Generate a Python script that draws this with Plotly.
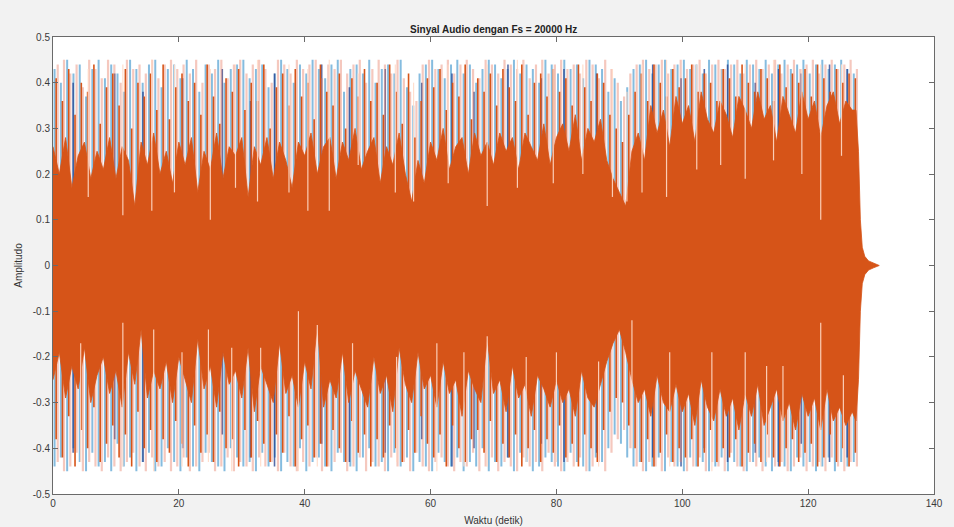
import numpy as np
import plotly.graph_objects as go

# ---------------- data ----------------
seconds = list(range(128))  # one column of values per second, 0..127 s

# solid orange core (top / bottom of the dense part of channel 2)
core_top = [0.26,0.20,0.28,0.17,0.24,0.27,0.19,0.25,0.21,0.28,
            0.19,0.26,0.23,0.13,0.27,0.22,0.29,0.20,0.25,0.18,
            0.27,0.22,0.28,0.16,0.25,0.21,0.29,0.19,0.26,0.24,
            0.28,0.15,0.26,0.22,0.28,0.19,0.27,0.23,0.17,0.27,
            0.24,0.29,0.20,0.26,0.28,0.19,0.27,0.23,0.30,0.21,
            0.25,0.28,0.18,0.26,0.22,0.29,0.20,0.14,0.23,0.18,
            0.27,0.23,0.30,0.21,0.26,0.28,0.20,0.29,0.24,0.27,
            0.22,0.29,0.25,0.28,0.21,0.29,0.26,0.23,0.31,0.22,
            0.28,0.31,0.25,0.33,0.23,0.30,0.27,0.32,0.23,0.19,
            0.16,0.13,0.25,0.29,0.23,0.35,0.29,0.34,0.26,0.37,
            0.31,0.35,0.27,0.38,0.32,0.29,0.36,0.33,0.28,0.37,
            0.34,0.30,0.38,0.32,0.35,0.27,0.37,0.33,0.29,0.38,
            0.32,0.36,0.28,0.35,0.38,0.31,0.36,0.34]
core_bot = [-0.25,-0.19,-0.29,-0.22,-0.27,-0.18,-0.30,-0.24,-0.20,-0.28,
            -0.23,-0.31,-0.19,-0.26,-0.14,-0.29,-0.23,-0.27,-0.21,-0.30,
            -0.20,-0.25,-0.30,-0.16,-0.27,-0.22,-0.31,-0.19,-0.26,-0.23,
            -0.29,-0.18,-0.32,-0.22,-0.26,-0.30,-0.17,-0.28,-0.24,-0.31,
            -0.21,-0.27,-0.13,-0.31,-0.25,-0.29,-0.19,-0.30,-0.23,-0.27,
            -0.31,-0.20,-0.28,-0.24,-0.32,-0.18,-0.26,-0.30,-0.19,-0.27,
            -0.24,-0.31,-0.21,-0.28,-0.25,-0.33,-0.23,-0.27,-0.30,-0.16,
            -0.28,-0.25,-0.32,-0.22,-0.29,-0.26,-0.33,-0.24,-0.27,-0.31,
            -0.25,-0.30,-0.27,-0.33,-0.23,-0.29,-0.31,-0.26,-0.21,-0.17,
            -0.14,-0.19,-0.25,-0.30,-0.27,-0.33,-0.24,-0.30,-0.32,-0.26,
            -0.32,-0.28,-0.35,-0.25,-0.31,-0.34,-0.27,-0.33,-0.29,-0.36,
            -0.28,-0.33,-0.26,-0.35,-0.31,-0.27,-0.34,-0.30,-0.36,-0.28,
            -0.33,-0.29,-0.36,-0.27,-0.34,-0.31,-0.35,-0.32]

# channel 2 (orange) individual peaks
orange_top = [0.41,0.36,0.43,0.33,0.40,0.38,0.44,0.31,0.39,0.42,
              0.35,0.43,0.30,0.40,0.37,0.42,0.34,0.44,0.32,0.39,
              0.42,0.36,0.40,0.33,0.44,0.37,0.31,0.41,0.38,0.43,
              0.34,0.40,0.36,0.44,0.30,0.39,0.42,0.35,0.43,0.37,
              0.40,0.32,0.44,0.38,0.35,0.42,0.30,0.41,0.37,0.43,
              0.36,0.40,0.33,0.44,0.38,0.31,0.42,0.28,0.36,0.41,
              0.39,0.43,0.34,0.40,0.37,0.44,0.32,0.41,0.38,0.42,
              0.35,0.43,0.39,0.36,0.44,0.33,0.40,0.42,0.37,0.43,
              0.38,0.41,0.35,0.44,0.39,0.36,0.42,0.40,0.33,0.30,
              0.27,0.33,0.38,0.42,0.36,0.44,0.40,0.37,0.43,0.39,
              0.41,0.44,0.38,0.42,0.40,0.36,0.43,0.41,0.37,0.44,
              0.40,0.38,0.43,0.41,0.36,0.44,0.39,0.42,0.40,0.43,
              0.37,0.44,0.41,0.38,0.43,0.40,0.42,0.41]
orange_bot = [-0.38,-0.42,-0.33,-0.44,-0.36,-0.40,-0.31,-0.43,-0.39,-0.35,
              -0.42,-0.37,-0.44,-0.32,-0.40,-0.36,-0.43,-0.38,-0.41,-0.34,
              -0.39,-0.44,-0.35,-0.41,-0.37,-0.43,-0.32,-0.40,-0.38,-0.44,
              -0.36,-0.42,-0.34,-0.39,-0.43,-0.37,-0.41,-0.33,-0.44,-0.38,
              -0.35,-0.42,-0.39,-0.44,-0.36,-0.40,-0.43,-0.34,-0.41,-0.37,
              -0.44,-0.38,-0.42,-0.35,-0.40,-0.43,-0.36,-0.41,-0.33,-0.39,
              -0.42,-0.37,-0.44,-0.35,-0.40,-0.43,-0.38,-0.36,-0.41,-0.34,
              -0.43,-0.39,-0.42,-0.37,-0.44,-0.40,-0.36,-0.43,-0.38,-0.41,
              -0.35,-0.42,-0.39,-0.44,-0.37,-0.40,-0.43,-0.36,-0.32,-0.29,
              -0.30,-0.35,-0.40,-0.43,-0.38,-0.44,-0.41,-0.37,-0.43,-0.40,
              -0.42,-0.38,-0.44,-0.41,-0.36,-0.43,-0.40,-0.42,-0.38,-0.44,
              -0.41,-0.39,-0.43,-0.37,-0.42,-0.44,-0.40,-0.38,-0.43,-0.41,
              -0.39,-0.44,-0.42,-0.37,-0.43,-0.40,-0.44,-0.41]

# faint (anti-aliased) channel 2 extremes
pink_top = [0.44,0.45,0.42,0.44,0.39,0.45,0.43,0.41,0.45,0.44,
            0.40,0.45,0.43,0.44,0.42,0.45,0.41,0.44,0.45,0.43,
            0.44,0.42,0.45,0.40,0.44,0.43,0.45,0.41,0.44,0.45,
            0.42,0.44,0.45,0.43,0.40,0.45,0.44,0.42,0.45,0.43,
            0.44,0.45,0.41,0.44,0.43,0.45,0.42,0.44,0.45,0.40,
            0.43,0.45,0.44,0.42,0.45,0.41,0.38,0.36,0.44,0.45,
            0.43,0.44,0.45,0.42,0.44,0.45,0.43,0.41,0.45,0.44,
            0.42,0.45,0.44,0.43,0.45,0.41,0.44,0.45,0.42,0.44,
            0.45,0.43,0.44,0.42,0.45,0.44,0.41,0.45,0.43,0.40,
            0.37,0.42,0.44,0.45,0.43,0.44,0.45,0.42,0.44,0.45,
            0.43,0.44,0.45,0.42,0.44,0.45,0.43,0.44,0.45,0.42,
            0.44,0.45,0.43,0.44,0.45,0.42,0.44,0.45,0.43,0.44,
            0.45,0.42,0.44,0.45,0.43,0.44,0.45,0.43]
pink_bot = [-0.43,-0.45,-0.44,-0.41,-0.45,-0.43,-0.44,-0.45,-0.42,-0.44,
            -0.45,-0.43,-0.41,-0.44,-0.45,-0.42,-0.44,-0.43,-0.45,-0.44,
            -0.42,-0.45,-0.44,-0.43,-0.41,-0.45,-0.44,-0.42,-0.45,-0.43,
            -0.44,-0.45,-0.42,-0.44,-0.43,-0.45,-0.41,-0.44,-0.45,-0.43,
            -0.44,-0.42,-0.45,-0.44,-0.43,-0.41,-0.45,-0.44,-0.42,-0.45,
            -0.43,-0.44,-0.45,-0.42,-0.44,-0.43,-0.45,-0.41,-0.44,-0.45,
            -0.43,-0.42,-0.44,-0.45,-0.43,-0.44,-0.41,-0.45,-0.44,-0.42,
            -0.45,-0.43,-0.44,-0.45,-0.42,-0.44,-0.43,-0.45,-0.41,-0.44,
            -0.45,-0.43,-0.44,-0.42,-0.45,-0.44,-0.43,-0.45,-0.41,-0.38,
            -0.36,-0.40,-0.44,-0.45,-0.43,-0.44,-0.45,-0.42,-0.44,-0.43,
            -0.45,-0.44,-0.42,-0.45,-0.43,-0.44,-0.45,-0.41,-0.44,-0.45,
            -0.43,-0.44,-0.45,-0.42,-0.44,-0.43,-0.45,-0.44,-0.42,-0.45,
            -0.44,-0.43,-0.45,-0.42,-0.44,-0.45,-0.43,-0.44]

# channel 1 (blue) extremes
blue_top = [0.43,0.40,0.45,0.42,0.44,0.37,0.43,0.45,0.41,0.44,
            0.42,0.38,0.45,0.43,0.40,0.44,0.45,0.39,0.43,0.44,
            0.41,0.45,0.43,0.38,0.44,0.42,0.45,0.40,0.43,0.44,
            0.45,0.41,0.43,0.44,0.39,0.42,0.45,0.43,0.40,0.44,
            0.42,0.45,0.43,0.41,0.44,0.45,0.38,0.43,0.44,0.42,
            0.45,0.40,0.43,0.44,0.42,0.45,0.39,0.35,0.42,0.44,
            0.45,0.43,0.41,0.44,0.45,0.42,0.44,0.40,0.43,0.45,
            0.44,0.41,0.43,0.45,0.42,0.44,0.43,0.40,0.45,0.44,
            0.42,0.45,0.43,0.44,0.41,0.45,0.44,0.43,0.38,0.41,
            0.36,0.39,0.43,0.44,0.45,0.42,0.44,0.45,0.43,0.44,
            0.45,0.43,0.44,0.42,0.45,0.44,0.43,0.45,0.44,0.42,
            0.45,0.44,0.43,0.45,0.42,0.44,0.45,0.43,0.44,0.45,
            0.42,0.44,0.45,0.43,0.44,0.45,0.43,0.42]
blue_bot = [-0.44,-0.42,-0.45,-0.40,-0.43,-0.45,-0.41,-0.44,-0.43,-0.45,
            -0.39,-0.44,-0.42,-0.45,-0.43,-0.41,-0.45,-0.44,-0.40,-0.43,
            -0.45,-0.42,-0.44,-0.45,-0.41,-0.43,-0.44,-0.45,-0.40,-0.42,
            -0.44,-0.43,-0.45,-0.41,-0.44,-0.42,-0.45,-0.43,-0.44,-0.40,
            -0.45,-0.43,-0.42,-0.44,-0.45,-0.41,-0.43,-0.44,-0.45,-0.42,
            -0.40,-0.44,-0.43,-0.45,-0.41,-0.44,-0.42,-0.45,-0.43,-0.44,
            -0.45,-0.41,-0.43,-0.44,-0.42,-0.45,-0.43,-0.44,-0.40,-0.45,
            -0.43,-0.44,-0.42,-0.45,-0.41,-0.43,-0.45,-0.44,-0.42,-0.43,
            -0.44,-0.45,-0.41,-0.43,-0.44,-0.45,-0.42,-0.43,-0.40,-0.37,
            -0.39,-0.42,-0.44,-0.43,-0.45,-0.44,-0.42,-0.45,-0.43,-0.44,
            -0.45,-0.42,-0.44,-0.43,-0.45,-0.44,-0.42,-0.45,-0.43,-0.44,
            -0.45,-0.43,-0.42,-0.44,-0.45,-0.43,-0.44,-0.45,-0.42,-0.44,
            -0.43,-0.45,-0.44,-0.42,-0.45,-0.43,-0.44,-0.43]

# darker blue strokes (channel 1 exceeding channel 2)
navy_t = [3.2, 9.8, 14.3, 20.6, 26.9, 31.4, 35.2, 42.7, 47.1, 52.8,
          58.6, 63.4, 66.9, 72.3, 77.6, 81.2, 86.4, 95.3, 99.8, 103.5,
          107.2, 111.6, 115.3, 118.9, 123.4, 126.2]
navy_top = [0.40, 0.42, 0.38, 0.41, 0.43, 0.36, 0.42, 0.44, 0.39, 0.43,
            0.40, 0.42, 0.38, 0.44, 0.41, 0.43, 0.42, 0.44, 0.41, 0.43,
            0.44, 0.40, 0.43, 0.42, 0.44, 0.43]
navy_bot = [-0.41, -0.38, -0.43, -0.40, -0.37, -0.42, -0.44, -0.39, -0.43, -0.41,
            -0.38, -0.44, -0.40, -0.42, -0.39, -0.43, -0.41, -0.42, -0.44, -0.40,
            -0.43, -0.41, -0.44, -0.39, -0.43, -0.42]

# pale gaps cutting into the orange core (time, inner end, outer end)
gap_top_t = [5.6, 11.1, 15.7, 19.3, 25.0, 29.0, 32.5, 37.5, 40.5, 43.9, 48.5, 54.4,
             57.3, 62.8, 69.0, 73.8, 79.5, 84.2, 88.9, 91.2, 93.6, 97.5, 102.3,
             106.1, 110.0, 114.5, 119.0, 122.0, 125.3]
gap_top_from = [0.15, 0.11, 0.12, 0.16, 0.10, 0.17, 0.14, 0.16, 0.12, 0.12, 0.22, 0.16,
                0.14, 0.18, 0.13, 0.17, 0.18, 0.20, 0.15, 0.14, 0.16, 0.15, 0.21,
                0.22, 0.19, 0.23, 0.20, 0.10, 0.24]
gap_top_to = [0.43, 0.44, 0.45, 0.44, 0.43, 0.44, 0.45, 0.44, 0.43, 0.45, 0.42, 0.44,
              0.40, 0.44, 0.44, 0.45, 0.43, 0.44, 0.43, 0.38, 0.44, 0.45, 0.44,
              0.43, 0.44, 0.45, 0.43, 0.44, 0.44]
gap_bot_t = [4.4, 11.1, 16.0, 20.5, 24.7, 28.4, 33.0, 39.0, 42.0, 47.6, 54.6, 61.0,
             65.3, 69.0, 75.2, 80.0, 86.7, 92.0, 98.0, 104.7, 110.0, 113.4, 116.0,
             122.0, 125.6]
gap_bot_from = [-0.17, -0.125, -0.14, -0.19, -0.14, -0.18, -0.18, -0.10, -0.13, -0.17, -0.20, -0.17,
                -0.19, -0.155, -0.20, -0.19, -0.21, -0.12, -0.19, -0.19, -0.19, -0.22, -0.22,
                -0.125, -0.24]
gap_bot_to = [-0.43, -0.44, -0.45, -0.44, -0.43, -0.45, -0.44, -0.45, -0.44, -0.43, -0.43, -0.45,
              -0.44, -0.44, -0.43, -0.43, -0.44, -0.40, -0.44, -0.45, -0.44, -0.43, -0.43,
              -0.44, -0.43]

# fade-out at the end of the recording
tail_t = [127.6, 128.0, 128.3, 128.6, 129.0, 129.6, 130.4, 131.3]
tail_amp = [0.34, 0.25, 0.10, 0.04, 0.02, 0.01, 0.005, 0.0]

x_ticks = [0, 20, 40, 60, 80, 100, 120, 140]
y_ticks = [-0.5, -0.4, -0.3, -0.2, -0.1, 0, 0.1, 0.2, 0.3, 0.4, 0.5]
y_labels = ["-0.5", "-0.4", "-0.3", "-0.2", "-0.1", "0", "0.1", "0.2", "0.3", "0.4", "0.5"]

# ---------------- build figure ----------------
def vsegs(xs, lo, hi):
    X, Y = [], []
    for x, a, b in zip(xs, lo, hi):
        X += [x, x, None]
        Y += [a, b, None]
    return X, Y

sec = np.array(seconds, dtype=float)
fig = go.Figure()

def add_lines(X, Y, color, width):
    fig.add_trace(go.Scatter(x=X, y=Y, mode="lines", line=dict(color=color, width=width),
                             hoverinfo="skip", showlegend=False))

add_lines(*vsegs(sec + 0.25, blue_bot, blue_top), "rgba(0,114,189,0.48)", 2.0)
add_lines(*vsegs(navy_t, navy_bot, navy_top), "rgba(30,60,140,0.75)", 1.6)
add_lines(*vsegs(sec + 0.75, pink_bot, pink_top), "rgba(232,125,100,0.42)", 2.2)
add_lines(*vsegs(sec + 0.5, orange_bot, orange_top), "#D65418", 1.6)

top_x = list(sec) + tail_t
top_y = core_top + tail_amp
bot_y = core_bot + [-a for a in tail_amp]
fig.add_trace(go.Scatter(x=top_x + top_x[::-1], y=top_y + bot_y[::-1], mode="lines",
                         fill="toself", fillcolor="#D65418",
                         line=dict(color="#D65418", width=0.8),
                         hoverinfo="skip", showlegend=False))

gx, gy = vsegs(gap_top_t, gap_top_from, gap_top_to)
gx2, gy2 = vsegs(gap_bot_t, gap_bot_from, gap_bot_to)
add_lines(gx + gx2, gy + gy2, "rgba(255,218,200,0.9)", 1.2)

font_family = "Liberation Sans, Arial, sans-serif"
axis_common = dict(showline=True, linecolor="#6a6a6a", linewidth=1, mirror="ticks",
                   ticks="inside", ticklen=5, tickcolor="#6a6a6a", showgrid=False,
                   zeroline=False, automargin=False,
                   tickfont=dict(family=font_family, size=10, color="#3a3a3a"))

fig.update_layout(
    width=954, height=527,
    paper_bgcolor="#f2f2f2", plot_bgcolor="#ffffff",
    margin=dict(l=53, r=20, t=37, b=33, autoexpand=False),
    title=dict(text="<b>Sinyal Audio dengan Fs = 20000 Hz</b>", x=0.5175, xanchor="center",
               y=0.937, yanchor="bottom",
               font=dict(family=font_family, size=10, color="#222")),
    xaxis=dict(range=[0, 140], tickvals=x_ticks,
               title=dict(text="Waktu (detik)", standoff=8,
                          font=dict(family=font_family, size=10, color="#333")),
               **axis_common),
    yaxis=dict(range=[-0.5, 0.5], tickvals=y_ticks, ticktext=y_labels,
               title=dict(text="Amplitudo", standoff=8,
                          font=dict(family=font_family, size=10, color="#333")),
               **axis_common),
)

fig.write_html("out.html", config={"displayModeBar": False},
               post_script="document.body.style.margin='0px';")
